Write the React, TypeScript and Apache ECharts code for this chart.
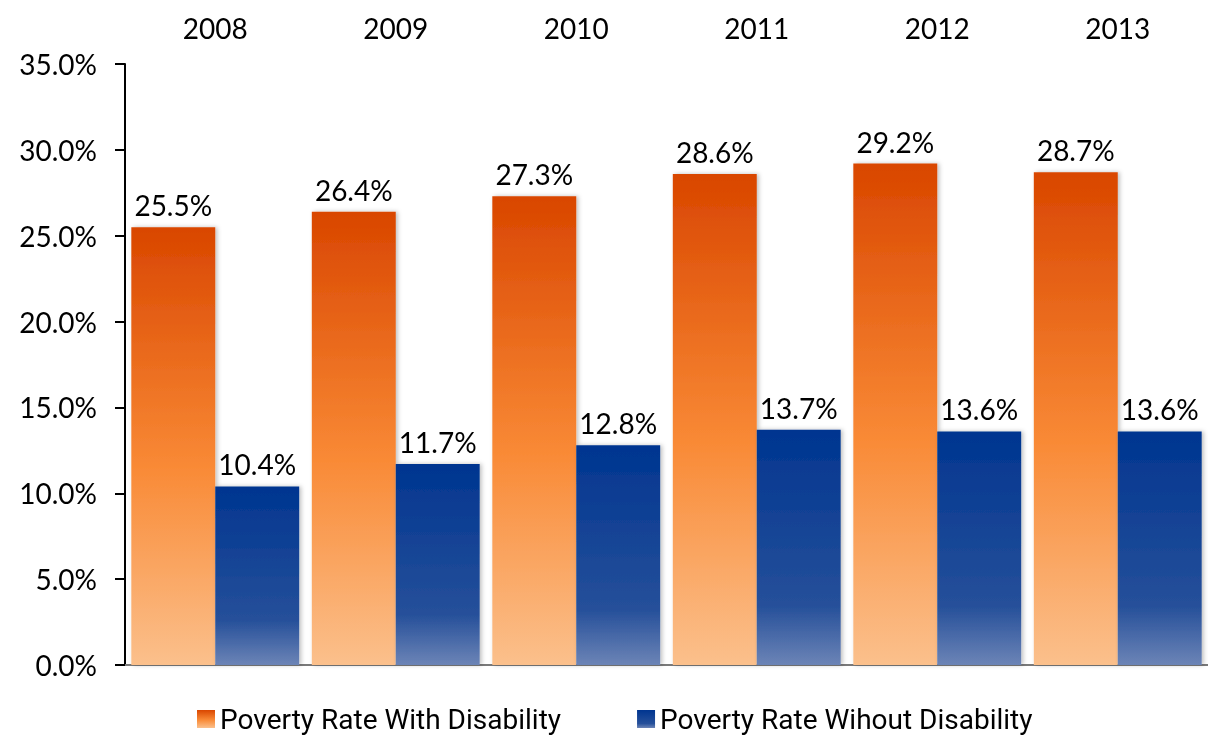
import React, { useEffect, useRef } from "react";
import * as echarts from "echarts";

const years = ["2008", "2009", "2010", "2011", "2012", "2013"];
const withDisability = [25.5, 26.4, 27.3, 28.6, 29.2, 28.7];
const withoutDisability = [10.4, 11.7, 12.8, 13.7, 13.6, 13.6];
const seriesNames = ["Poverty Rate With Disability", "Poverty Rate Wihout Disability"];

const FONT = "Lato, 'DejaVu Sans', sans-serif";

export default function App() {
  const ref = useRef<HTMLDivElement>(null);
  useEffect(() => {
    if (!ref.current) return;
    const chart = echarts.init(ref.current, null, { renderer: "svg" });
    const orange = new echarts.graphic.LinearGradient(0, 0, 0, 1, [
      { offset: 0, color: "#D94600" },
      { offset: 0.55, color: "#F98A36" },
      { offset: 1, color: "#FBC08C" },
    ]);
    const blue = new echarts.graphic.LinearGradient(0, 0, 0, 1, [
      { offset: 0, color: "#003590" },
      { offset: 0.75, color: "#26509A" },
      { offset: 1, color: "#6C84B6" },
    ]);
    const label = {
      show: true,
      position: "top" as const,
      distance: 8,
      color: "#000",
      fontSize: 28,
      fontFamily: FONT,
      formatter: (p: any) => p.value.toFixed(1) + "%",
    };
    chart.setOption({
      animation: false,
      textStyle: { fontFamily: FONT },
      grid: { left: 125, top: 64, width: 1089, height: 601 },
      legend: {
        top: 700,
        left: 192,
        itemWidth: 18,
        itemHeight: 18,
        itemGap: 76,
        icon: "rect",
        textStyle: {
          fontSize: 28,
          lineHeight: 28,
          color: "#000",
          fontFamily: "Roboto, 'Liberation Sans', sans-serif",
        },
        data: seriesNames,
      },
      xAxis: [
        {
          type: "category",
          data: years,
          position: "top",
          axisLine: { show: false },
          axisTick: { show: false },
          axisLabel: { color: "#000", fontSize: 28, fontFamily: FONT, margin: 22 },
        },
        {
          type: "category",
          data: years,
          position: "bottom",
          axisLine: { show: true, lineStyle: { color: "#7a7a7a", width: 2 } },
          axisTick: { show: false },
          axisLabel: { show: false },
        },
      ],
      yAxis: {
        type: "value",
        min: 0,
        max: 35,
        interval: 5,
        axisLine: { show: true, lineStyle: { color: "#000", width: 2 } },
        axisTick: { show: true, length: 10, lineStyle: { color: "#000", width: 2 } },
        splitLine: { show: false },
        axisLabel: {
          color: "#000",
          fontSize: 28,
          fontFamily: FONT,
          margin: 28,
          formatter: (v: number) => v.toFixed(1) + "%",
        },
      },
      series: [
        {
          name: seriesNames[0],
          type: "bar",
          data: withDisability,
          barGap: "0%",
          barCategoryGap: "7%",
          itemStyle: { color: orange, shadowBlur: 4, shadowColor: "rgba(0,0,0,0.25)", shadowOffsetX: 2 },
          label,
        },
        {
          name: seriesNames[1],
          type: "bar",
          data: withoutDisability,
          barGap: "0%",
          barCategoryGap: "7%",
          itemStyle: { color: blue, shadowBlur: 4, shadowColor: "rgba(0,0,0,0.25)", shadowOffsetX: 2 },
          label,
        },
      ],
    });
    return () => chart.dispose();
  }, []);
  return <div ref={ref} style={{ position: "fixed", left: 0, top: 0, width: 1208, height: 736 }} />;
}
